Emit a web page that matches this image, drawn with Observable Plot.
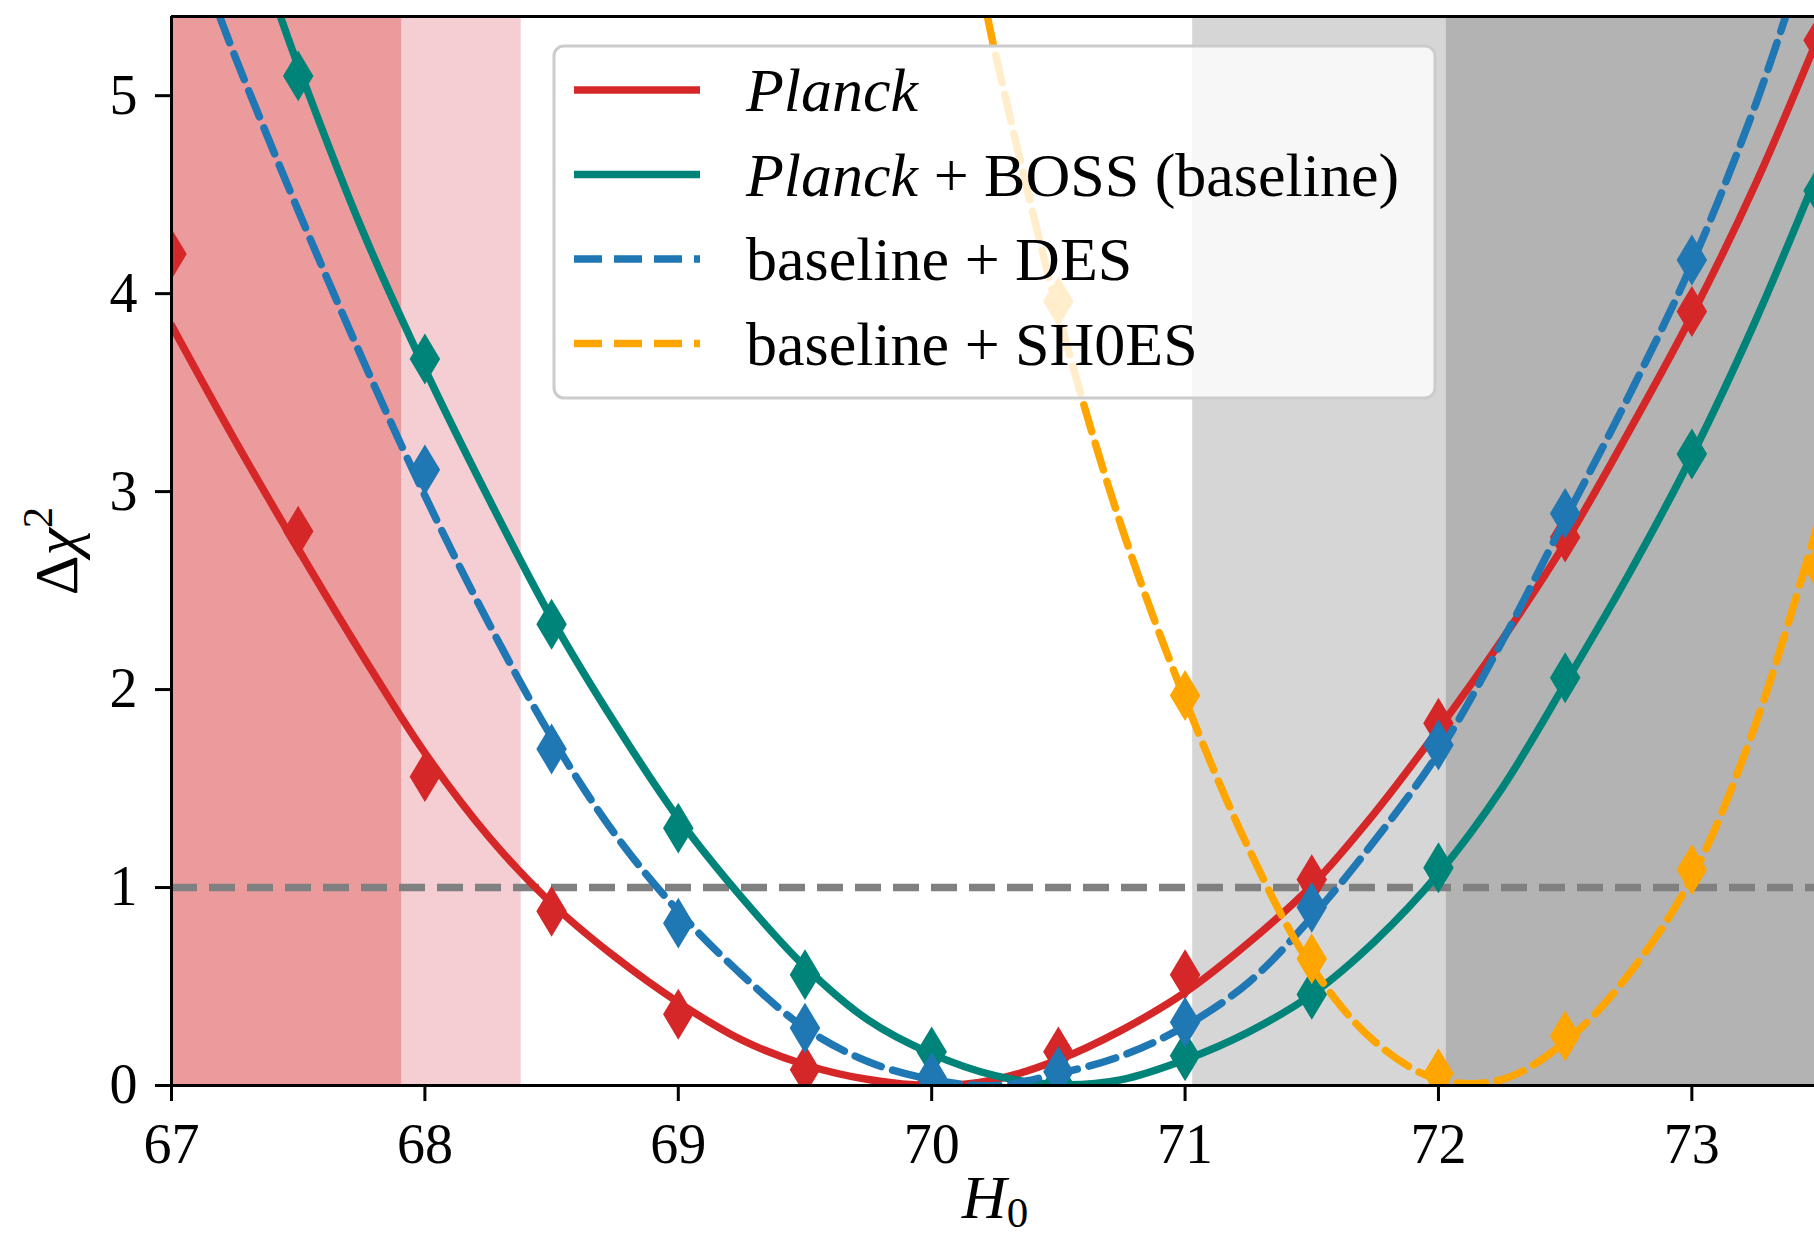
<!DOCTYPE html>
<html>
<head>
<meta charset="utf-8">
<script src="https://cdn.jsdelivr.net/npm/d3@7"></script>
<script src="https://cdn.jsdelivr.net/npm/@observablehq/plot@0.6"></script>
<style>
  html, body { margin: 0; padding: 0; background: #ffffff; overflow: hidden; }
  svg text { white-space: pre; }
</style>
</head>
<body>
<div id="chart"></div>
<script>
// ---------- axes ----------
const xTicks = [67, 68, 69, 70, 71, 72, 73];
const yTicks = [0, 1, 2, 3, 4, 5];
const xDomain = [67, 73.484];
const yDomain = [0, 5.4];
const thresholds = [1];

// ---------- shaded bands (H0 ranges) ----------
const bandStart = [67, 67.91, 71.03, 72.03];
const bandEnd   = [67.91, 68.38, 72.03, 73.484];
const bandColor = ["#eb9b9c", "#f4ced2", "#d6d6d6", "#b3b3b3"];

// ---------- series ----------
const seriesNames  = ["Planck", "Planck + BOSS (baseline)", "baseline + DES", "baseline + SH0ES"];
const seriesColors = ["#d62728", "#008479", "#1f77b4", "#ffa500"];
const seriesDashed = [false, false, true, true];

// Planck
const planckPointH    = [67, 67.5, 68, 68.5, 69, 69.5, 70, 70.5, 71, 71.5, 72, 72.5, 73, 73.5];
const planckPointChi2 = [4.20, 2.80, 1.56, 0.88, 0.36, 0.08, 0.01, 0.17, 0.56, 1.04, 1.83, 2.77, 3.91, 5.28];
const planckCurveH    = [67, 67.25, 67.5, 67.75, 68, 68.25, 68.5, 68.75, 69, 69.25, 69.5, 69.75, 70, 70.25, 70.5, 70.75, 71, 71.25, 71.5, 71.75, 72, 72.25, 72.5, 72.75, 73, 73.25, 73.5];
const planckCurveChi2 = [3.84, 3.26, 2.71, 2.18, 1.68, 1.26, 0.92, 0.65, 0.42, 0.23, 0.105, 0.03, 0.0, 0.03, 0.13, 0.28, 0.47, 0.72, 1.01, 1.38, 1.80, 2.25, 2.74, 3.30, 3.89, 4.55, 5.30];

// Planck + BOSS (baseline)
const bossPointH    = [67.5, 68, 68.5, 69, 69.5, 70, 70.5, 71, 71.5, 72, 72.5, 73, 73.5];
const bossPointChi2 = [5.10, 3.67, 2.33, 1.30, 0.56, 0.17, 0.01, 0.15, 0.46, 1.10, 2.06, 3.19, 4.52];
const bossCurveH    = [67.43, 67.5, 67.75, 68, 68.25, 68.5, 68.75, 69, 69.25, 69.5, 69.75, 70, 70.25, 70.5, 70.75, 71, 71.25, 71.5, 71.75, 72, 72.25, 72.5, 72.75, 73, 73.25, 73.5];
const bossCurveChi2 = [5.40, 5.15, 4.33, 3.62, 2.97, 2.36, 1.83, 1.35, 0.95, 0.60, 0.33, 0.16, 0.05, 0.005, 0.03, 0.13, 0.27, 0.46, 0.73, 1.07, 1.50, 2.03, 2.58, 3.18, 3.86, 4.62];

// baseline + DES
const desPointH    = [68, 68.5, 69, 69.5, 70, 70.5, 71, 71.5, 72, 72.5, 73];
const desPointChi2 = [3.11, 1.70, 0.82, 0.29, 0.04, 0.07, 0.32, 0.90, 1.72, 2.89, 4.17];
const desCurveH    = [67.19, 67.25, 67.5, 67.75, 68, 68.25, 68.5, 68.75, 69, 69.25, 69.5, 69.75, 70, 70.25, 70.5, 70.75, 71, 71.25, 71.5, 71.75, 72, 72.25, 72.5, 72.75, 73, 73.25, 73.37];
const desCurveChi2 = [5.40, 5.20, 4.42, 3.68, 2.98, 2.34, 1.76, 1.27, 0.88, 0.56, 0.29, 0.12, 0.03, 0.0, 0.06, 0.15, 0.30, 0.52, 0.85, 1.24, 1.68, 2.24, 2.86, 3.48, 4.15, 4.95, 5.40];

// baseline + SH0ES
const shoesPointH    = [70.5, 71, 71.5, 72, 72.5, 73, 73.5];
const shoesPointChi2 = [3.96, 1.97, 0.64, 0.06, 0.25, 1.09, 2.62];
const shoesCurveH    = [70.22, 70.25, 70.5, 70.75, 71, 71.25, 71.5, 71.75, 72, 72.25, 72.5, 72.75, 73, 73.25, 73.5];
const shoesCurveChi2 = [5.40, 5.22, 3.90, 2.82, 1.95, 1.20, 0.60, 0.22, 0.03, 0.03, 0.22, 0.56, 1.05, 1.82, 2.85];

// ---------- build tables ----------
const bands = bandStart.map((s, i) => ({start: s, end: bandEnd[i], color: bandColor[i]}));
const pointSets = [[planckPointH, planckPointChi2], [bossPointH, bossPointChi2], [desPointH, desPointChi2], [shoesPointH, shoesPointChi2]];
const curveSets = [[planckCurveH, planckCurveChi2], [bossCurveH, bossCurveChi2], [desCurveH, desCurveChi2], [shoesCurveH, shoesCurveChi2]];
const zip = ([hs, vs]) => hs.map((h, i) => ({H: h, chi2: vs[i]}));

// matplotlib-style thin diamond
const thinDiamond = {
  draw(context, size) {
    const h = Math.sqrt(size / Math.PI);
    const w = h * 0.6;
    context.moveTo(0, -h);
    context.lineTo(w, 0);
    context.lineTo(0, h);
    context.lineTo(-w, 0);
    context.closePath();
  }
};

const LW = 7.5;
const DASH = "28,12";

const seriesMarks = [];
seriesNames.forEach((name, i) => {
  seriesMarks.push(Plot.line(zip(curveSets[i]), {
    x: "H", y: "chi2", stroke: seriesColors[i], strokeWidth: LW,
    strokeDasharray: seriesDashed[i] ? DASH : null,
    curve: "catmull-rom", clip: true
  }));
  seriesMarks.push(Plot.dot(zip(pointSets[i]), {
    x: "H", y: "chi2", fill: seriesColors[i], stroke: seriesColors[i], strokeWidth: 2.5,
    symbol: thinDiamond, r: 23, clip: true
  }));
});

const chart = Plot.plot({
  width: 1814,
  height: 1237,
  marginLeft: 171,
  marginRight: 0,
  marginTop: 16,
  marginBottom: 152,
  style: {fontFamily: "'Liberation Serif', serif", fontSize: "56px", background: "#ffffff", color: "#000000"},
  x: {domain: xDomain},
  y: {domain: yDomain},
  color: {type: "identity"},
  marks: [
    Plot.rect(bands, {x1: "start", x2: "end", fill: "color"}),
    Plot.ruleY(thresholds, {stroke: "#808080", strokeWidth: LW, strokeDasharray: "26,12"}),
    ...seriesMarks,
    Plot.ruleX([xDomain[0]], {stroke: "#000000", strokeWidth: 3}),
    Plot.ruleY([yDomain[0], yDomain[1]], {stroke: "#000000", strokeWidth: 3}),
    Plot.axisX({ticks: xTicks, tickSize: 16, tickPadding: 22, strokeWidth: 3, label: null, tickFormat: d => String(d)}),
    Plot.axisY({ticks: yTicks, tickSize: 16, tickPadding: 18, strokeWidth: 3, label: null, tickFormat: d => String(d)})
  ]
});

document.getElementById("chart").appendChild(chart);

// ---------- legend and axis labels ----------
const svg = d3.select(chart);
const FONT = "'Liberation Serif', serif";

const lg = svg.append("g");
lg.append("rect")
  .attr("x", 554).attr("y", 46).attr("width", 881).attr("height", 352)
  .attr("rx", 10).attr("ry", 10)
  .attr("fill", "#ffffff").attr("fill-opacity", 0.8)
  .attr("stroke", "#cccccc").attr("stroke-width", 3);

seriesNames.forEach((name, i) => {
  const cy = 90 + i * 84.5;
  lg.append("line")
    .attr("x1", 574).attr("x2", 700).attr("y1", cy).attr("y2", cy)
    .attr("stroke", seriesColors[i]).attr("stroke-width", LW)
    .attr("stroke-dasharray", seriesDashed[i] ? DASH : null);
  const t = lg.append("text")
    .attr("x", 746).attr("y", cy + 21)
    .attr("text-anchor", "start")
    .attr("font-family", FONT).attr("font-size", 62).attr("fill", "#000000");
  if (name.startsWith("Planck")) {
    t.append("tspan").attr("font-style", "italic").text("Planck");
    const rest = name.slice("Planck".length);
    if (rest.length) t.append("tspan").text(rest);
  } else {
    t.text(name);
  }
});

// y label: Δχ²
const yl = svg.append("text")
  .attr("transform", "translate(77,551) rotate(-90)")
  .attr("text-anchor", "middle")
  .attr("font-family", FONT).attr("font-size", 62).attr("fill", "#000000");
yl.append("tspan").text("Δ");
yl.append("tspan").attr("font-style", "italic").text("χ");
yl.append("tspan").attr("font-size", 43).attr("dy", -25).text("2");

// x label: H0
const xl = svg.append("text")
  .attr("x", 995).attr("y", 1218)
  .attr("text-anchor", "middle")
  .attr("font-family", FONT).attr("font-size", 62).attr("fill", "#000000");
xl.append("tspan").attr("font-style", "italic").text("H");
xl.append("tspan").attr("font-size", 43).attr("dy", 9).text("0");
</script>
</body>
</html>
